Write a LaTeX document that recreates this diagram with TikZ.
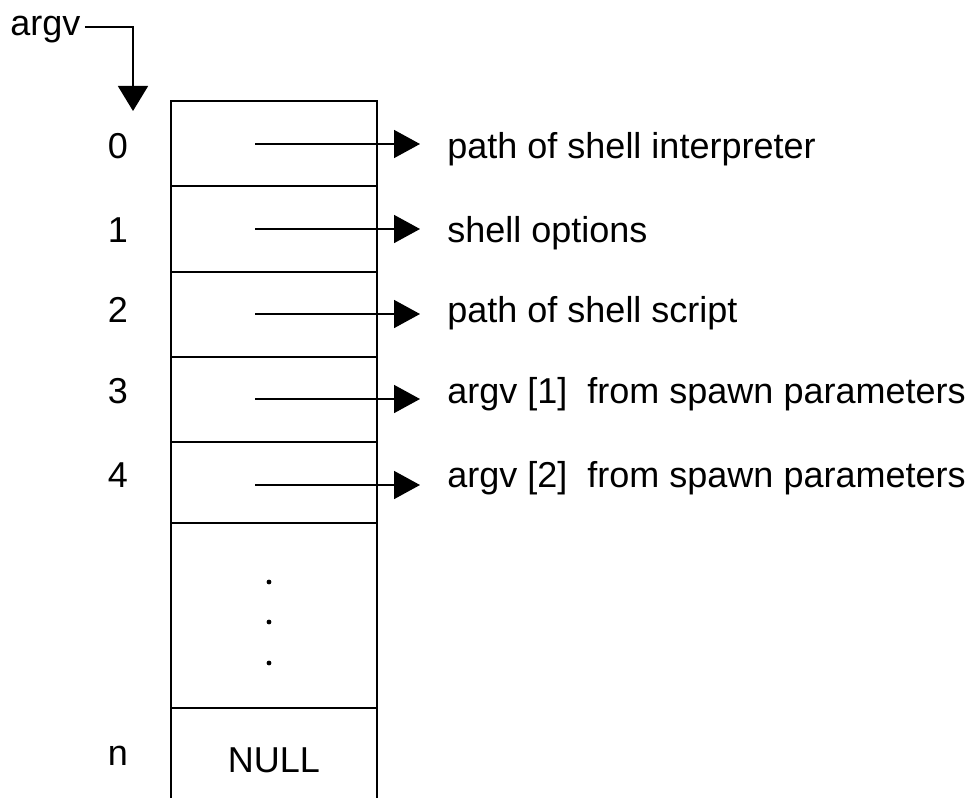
\documentclass[tikz,border=0pt]{standalone}
\usepackage{fontspec}
\setmainfont{Liberation Sans}
\usetikzlibrary{arrows.meta}
\begin{document}
\begin{tikzpicture}[x=0.5pt,y=-0.5pt,
  lbl/.style={inner sep=0pt,font=\fontsize{18}{20}\selectfont,anchor=base west},
  idx/.style={inner sep=0pt,font=\fontsize{18}{20}\selectfont,anchor=base},
  col/.style={line width=1pt},
  ptr/.style={line width=0.8pt,-{Triangle[length=13pt,width=14pt]}}]
\useasboundingbox (0,0) rectangle (977,797);
% column
\draw[col] (171,801) -- (171,101) -- (377,101) -- (377,801);
\foreach \yy in {186,272,357,442,523,708} \draw[col] (171,\yy) -- (377,\yy);
% argv pointer
\node[lbl] (argv) at (10,36) {argv};
\coordinate (bend) at (133,27);
\coordinate (top) at (133,111);
\draw[line width=0.8pt,-{Triangle[length=12.5pt,width=15pt]}] (argv.east |- bend) ++(4,0) -- (bend) -- (top);
% indices
\node[idx] (i0) at (118,158) {0};
\node[idx] (i1) at (118,242) {1};
\node[idx] (i2) at (118,322) {2};
\node[idx] (i3) at (118,403) {3};
\node[idx] (i4) at (118,487) {4};
\node[idx] (in) at (118,765) {n};
% labels
\node[lbl] (t0) at (447,158) {path of shell interpreter};
\node[lbl] (t1) at (447,242) {shell options};
\node[lbl] (t2) at (447,322) {path of shell script};
\node[lbl] (t3) at (447,403) {argv [1]\ \ from spawn parameters};
\node[lbl] (t4) at (447,487) {argv [2]\ \ from spawn parameters};
% arrows
\coordinate (s0) at (255,144);
\coordinate (s1) at (255,229);
\coordinate (s2) at (255,314);
\coordinate (s3) at (255,399);
\coordinate (s4) at (255,485);
\foreach \k in {0,...,4} \draw[ptr,shorten >=13.5pt] (s\k) -- (s\k -| t\k.west);
% dots
\foreach \yy [count=\c] in {582,622,663} \fill (269,\yy) circle (1.2pt) coordinate (d\c);
% NULL
\node[idx] (null) at (274,772) {NULL};
\end{tikzpicture}
\end{document}
